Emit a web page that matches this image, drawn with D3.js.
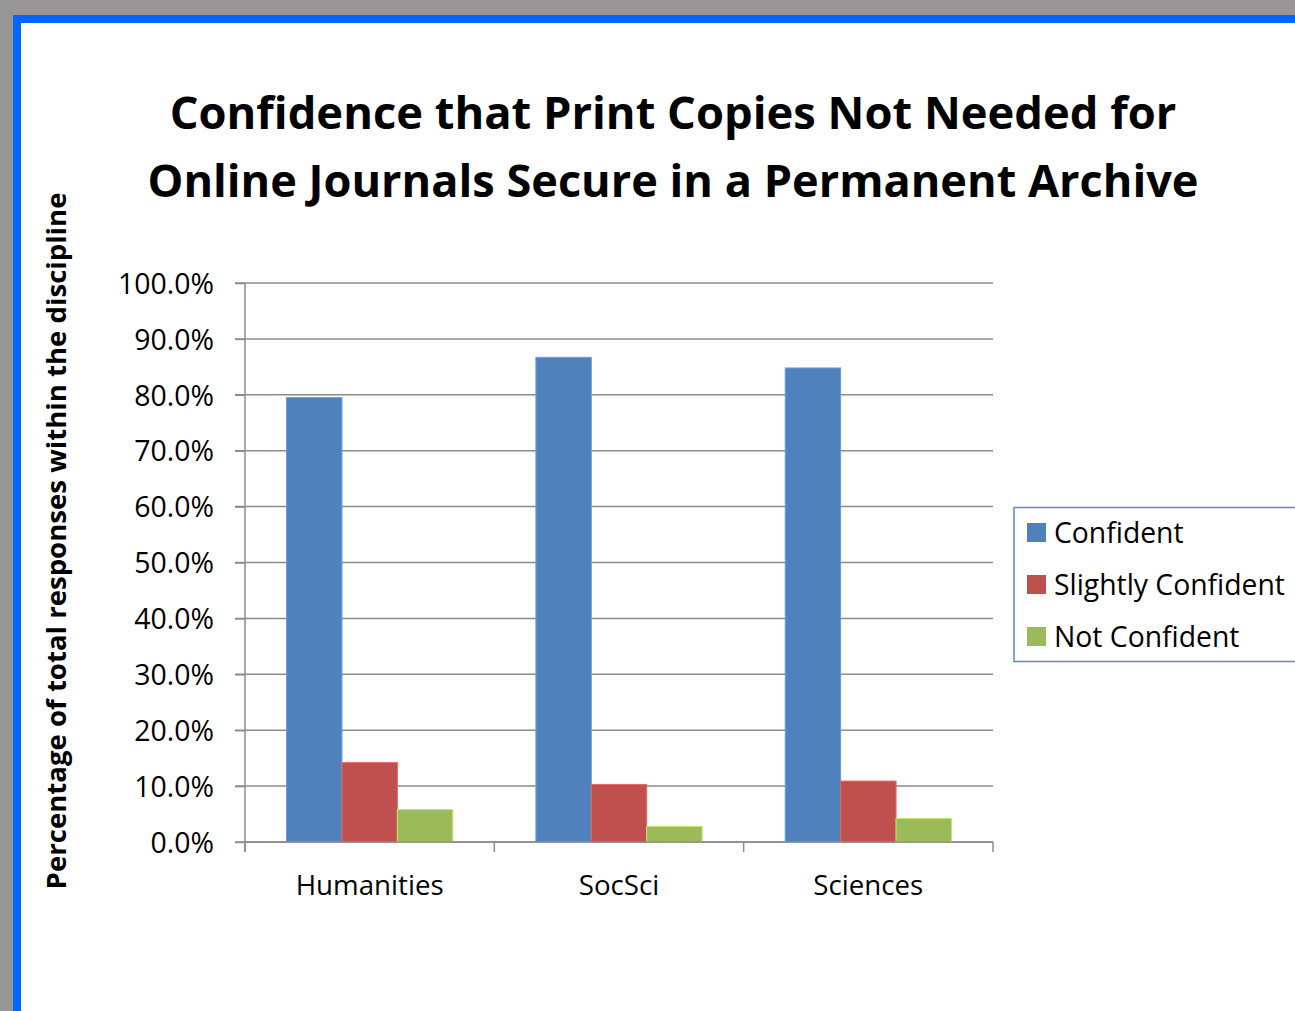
<!DOCTYPE html>
<html>
<head>
<meta charset="utf-8">
<script src="https://cdn.jsdelivr.net/npm/d3@7"></script>
<style>
  html, body { margin: 0; padding: 0; background: #969696; }
  svg { display: block; }
  text { font-family: "Open Sans", "Noto Sans", sans-serif; fill: #000; }
</style>
</head>
<body>
<svg id="chart" width="1295" height="1011"></svg>
<script>
const categories = ["Humanities", "SocSci", "Sciences"];
const seriesNames = ["Confident", "Slightly Confident", "Not Confident"];
const confident = [79.5, 86.7, 84.8];
const slightlyConfident = [14.2, 10.3, 10.9];
const notConfident = [5.8, 2.8, 4.2];
const seriesColors = ["#4F81BD", "#C0504D", "#9BBB59"];
const yTicks = [0, 10, 20, 30, 40, 50, 60, 70, 80, 90, 100];
const titleLines = ["Confidence that Print Copies Not Needed for", "Online Journals Secure in a Permanent Archive"];
const yAxisTitle = "Percentage of total responses within the discipline";

(function () {
const seriesValues = [confident, slightlyConfident, notConfident];
const data = categories.map((c, i) => ({ cat: c, vals: seriesNames.map((s, j) => ({ s, v: seriesValues[j][i], color: seriesColors[j] })) }));

const svg = d3.select("#chart");

// background frame: gray, blue border, white page
svg.append("rect").attr("x", 0).attr("y", 0).attr("width", 1295).attr("height", 1011).attr("fill", "#969696");
svg.append("rect").attr("x", 13).attr("y", 15).attr("width", 1282).attr("height", 996).attr("fill", "#0066FF");
svg.append("rect").attr("x", 21).attr("y", 23).attr("width", 1274).attr("height", 988).attr("fill", "#FFFFFF");

function fitSize(str, weight, target) {
  const tmp = svg.append("text").attr("font-size", 100).attr("font-weight", weight).text(str);
  const w = tmp.node().getComputedTextLength();
  tmp.remove();
  return +(100 * target / w).toFixed(2);
}

// Title
svg.append("text").attr("x", 673).attr("y", 129).attr("text-anchor", "middle")
  .attr("font-weight", "bold").attr("font-size", fitSize(titleLines[0], "bold", 1007)).text(titleLines[0]);
svg.append("text").attr("x", 673).attr("y", 197).attr("text-anchor", "middle")
  .attr("font-weight", "bold").attr("font-size", fitSize(titleLines[1], "bold", 1051)).text(titleLines[1]);

const tickFs = fitSize("100.0%", "normal", 96);
const catFs = fitSize("Humanities", "normal", 148);
const legFs = fitSize("Slightly Confident", "normal", 231);

// Scales
const pLeft = 245, pRight = 993, pTop = 283, pBottom = 842;
const x0 = d3.scaleBand().domain(categories).range([pLeft, pRight]).paddingInner(0).paddingOuter(0);
const barW = x0.bandwidth() / (3 + 1.5);
const x1 = d3.scaleBand().domain(seriesNames).range([barW * 0.75, barW * 0.75 + barW * 3]);
const y = d3.scaleLinear().domain([0, 100]).range([pBottom, pTop]);

// Gridlines
svg.append("g").selectAll("line").data(yTicks).join("line")
  .attr("x1", pLeft - 10).attr("x2", pRight)
  .attr("y1", d => y(d)).attr("y2", d => y(d))
  .attr("stroke", "#8c8c8c").attr("stroke-width", 1.5);

// Y axis
const yAxis = d3.axisLeft(y).tickValues(yTicks).tickFormat(d => d.toFixed(1) + "%").tickSize(10).tickPadding(20);
const gy = svg.append("g").attr("transform", `translate(${pLeft},0)`).call(yAxis);
gy.select(".domain").remove();
gy.selectAll(".tick line").attr("stroke", "#8c8c8c").attr("stroke-width", 1.5);
gy.selectAll(".tick text").attr("font-size", tickFs).attr("font-family", "'Open Sans', sans-serif")
  .attr("fill", "#000").attr("dy", "0.36em").attr("x", -31);
svg.append("line").attr("x1", pLeft).attr("x2", pLeft).attr("y1", pTop).attr("y2", pBottom + 10)
  .attr("stroke", "#8c8c8c").attr("stroke-width", 1.5);

// Bars
const groups = svg.append("g").selectAll("g").data(data).join("g")
  .attr("transform", d => `translate(${x0(d.cat)},0)`);
groups.selectAll("rect").data(d => d.vals).join("rect")
  .attr("x", d => x1(d.s)).attr("width", x1.bandwidth())
  .attr("y", d => y(d.v)).attr("height", d => y(0) - y(d.v))
  .attr("fill", d => d.color)
  .attr("stroke", d => d3.color(d.color).brighter(0.6)).attr("stroke-width", 1);

// X axis
const xAxis = d3.axisBottom(x0).tickSize(0).tickPadding(0);
const gx = svg.append("g").attr("transform", `translate(0,${pBottom})`).call(xAxis);
gx.select(".domain").remove();
gx.selectAll(".tick text").attr("font-size", catFs).attr("font-family", "'Open Sans', sans-serif")
  .attr("fill", "#000").attr("y", 53).attr("dy", 0);
svg.append("line").attr("x1", pLeft).attr("x2", pRight).attr("y1", pBottom).attr("y2", pBottom)
  .attr("stroke", "#8c8c8c").attr("stroke-width", 1.5);
const bounds = categories.map(c => x0(c)).concat([pRight]);
svg.append("g").selectAll("line").data(bounds).join("line")
  .attr("x1", d => d).attr("x2", d => d).attr("y1", pBottom).attr("y2", pBottom + 10)
  .attr("stroke", "#8c8c8c").attr("stroke-width", 1.5);

// Y axis title
svg.append("text").attr("transform", "translate(66,541) rotate(-90)")
  .attr("text-anchor", "middle").attr("font-weight", "bold")
  .attr("font-size", fitSize(yAxisTitle, "bold", 697)).text(yAxisTitle);

// Legend
svg.append("rect").attr("x", 1014).attr("y", 507.5).attr("width", 300).attr("height", 154)
  .attr("fill", "#fff").attr("stroke", "#5B8AC6").attr("stroke-width", 1.5);
const lg = svg.append("g").selectAll("g").data(seriesNames).join("g")
  .attr("transform", (d, i) => `translate(1027,${523 + i * 52})`);
lg.append("rect").attr("width", 19).attr("height", 19).attr("fill", (d, i) => seriesColors[i]);
lg.append("text").attr("x", 27).attr("y", 20).attr("font-size", legFs).text(d => d);
})();
</script>
</body>
</html>
